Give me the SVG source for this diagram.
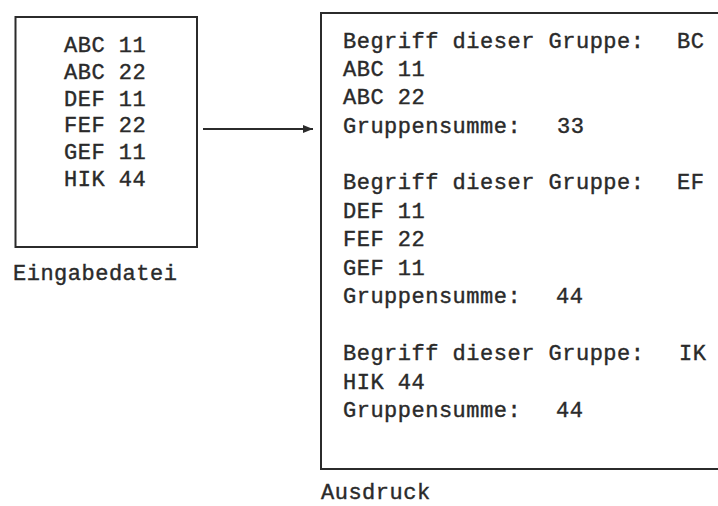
<svg xmlns="http://www.w3.org/2000/svg" width="718" height="506" viewBox="0 0 718 506">
<style>
  .box { fill: #ffffff; stroke: #2b2b2b; stroke-width: 2; }
  .t { font-family: "Liberation Mono", "DejaVu Sans Mono", monospace; font-size: 22px; letter-spacing: 0.5px; fill: #2a2a2a; stroke: #2a2a2a; stroke-width: 0.4px; }
  .conn { stroke: #2b2b2b; stroke-width: 2; fill: none; }
</style>
<defs>
  <marker id="arrow" markerUnits="userSpaceOnUse" markerWidth="11" markerHeight="9" refX="10" refY="4.5" orient="auto">
    <path d="M0,0.5 L10,4.5 L0,8.5 z" fill="#2b2b2b"/>
  </marker>
</defs>
<rect width="718" height="506" fill="#ffffff"/>
<g id="eingabedatei">
  <rect class="box" x="15.5" y="17" width="181.5" height="230"/>
  <text class="t" x="64" y="52">ABC 11</text>
  <text class="t" x="64" y="78.5">ABC 22</text>
  <text class="t" x="64" y="105.5">DEF 11</text>
  <text class="t" x="64" y="132">FEF 22</text>
  <text class="t" x="64" y="159">GEF 11</text>
  <text class="t" x="64" y="186">HIK 44</text>
  <text class="t" x="13" y="280">Eingabedatei</text>
</g>
<g id="ausdruck">
  <path class="box" d="M725,13 L321,13 L321,469 L725,469"/>
  <text class="t" x="343" y="47.5">Begriff dieser Gruppe:<tspan x="677">BC</tspan></text>
  <text class="t" x="343" y="76">ABC 11</text>
  <text class="t" x="343" y="104">ABC 22</text>
  <text class="t" x="343" y="132.5">Gruppensumme:<tspan x="557">33</tspan></text>
  <text class="t" x="343" y="189">Begriff dieser Gruppe:<tspan x="677">EF</tspan></text>
  <text class="t" x="343" y="218">DEF 11</text>
  <text class="t" x="343" y="246">FEF 22</text>
  <text class="t" x="343" y="275">GEF 11</text>
  <text class="t" x="343" y="303">Gruppensumme:<tspan x="556">44</tspan></text>
  <text class="t" x="343" y="360">Begriff dieser Gruppe:<tspan x="679">IK</tspan></text>
  <text class="t" x="343" y="388.5">HIK 44</text>
  <text class="t" x="343" y="417">Gruppensumme:<tspan x="556">44</tspan></text>
  <text class="t" x="321" y="499">Ausdruck</text>
</g>
<g id="connectors">
  <line class="conn" x1="203" y1="129" x2="313" y2="129" marker-end="url(#arrow)"/>
</g>
</svg>
